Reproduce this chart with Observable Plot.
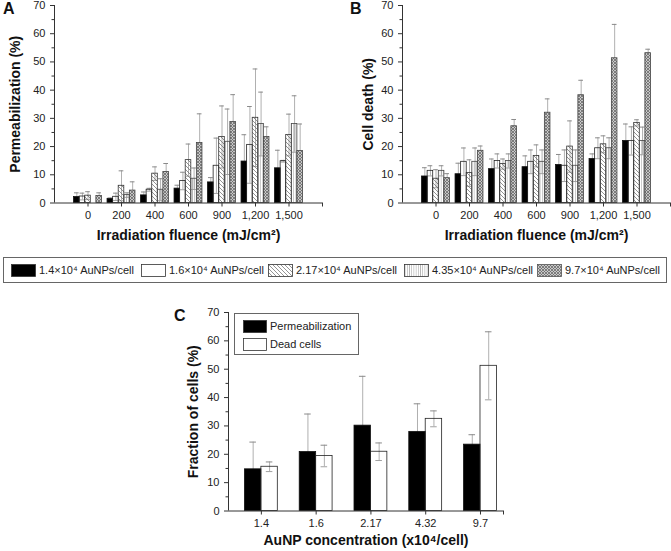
<!DOCTYPE html>
<html><head><meta charset="utf-8">
<script src="https://cdn.jsdelivr.net/npm/d3@7"></script>
<script src="https://cdn.jsdelivr.net/npm/@observablehq/plot@0.6"></script>
<style>
body{margin:0;background:#fff;font-family:"Liberation Sans",Arial,sans-serif;color:#222;}
#root{position:relative;width:671px;height:551px;overflow:hidden;background:#fff;}
.panel{position:absolute;}
.letter{position:absolute;font-weight:bold;font-size:16px;color:#111;line-height:1;}
.legend{position:absolute;border:1px solid #666;box-sizing:border-box;}
.item{position:absolute;white-space:nowrap;line-height:1;}
.sw{position:absolute;}
</style></head><body>
<svg width="0" height="0" style="position:absolute">
<defs>
<pattern id="diag" width="4" height="4" patternUnits="userSpaceOnUse">
<path d="M-1,-1 L5,5 M-1,3 L1,5 M3,-1 L5,1" stroke="#666" stroke-width="0.7" fill="none"/>
</pattern>
<pattern id="vert" width="2.2" height="4" patternUnits="userSpaceOnUse">
<path d="M1.1,0 L1.1,4" stroke="#999" stroke-width="0.6" fill="none"/>
</pattern>
<pattern id="cross" width="3" height="3" patternUnits="userSpaceOnUse">
<rect width="3" height="3" fill="#c8c8c8"/>
<path d="M-0.5,-0.5 L3.5,3.5 M3.5,-0.5 L-0.5,3.5" stroke="#6a6a6a" stroke-width="0.8" fill="none"/>
</pattern>
</defs>
</svg>
<div id="root"></div>
<script>
// ---------- data ----------
const fluence = ["0", "200", "400", "600", "900", "1,200", "1,500"];
const seriesLabels = ["1.4×10⁴ AuNPs/cell", "1.6×10⁴ AuNPs/cell", "2.17×10⁴ AuNPs/cell", "4.35×10⁴ AuNPs/cell", "9.7×10⁴ AuNPs/cell"];

// Panel A: permeabilization (%) per series, over fluence
const perm14  = [2.1, 1.4, 2.7, 5.1, 7.3, 14.7, 12.3];
const perm16  = [2.3, 2.2, 4.7, 7.8, 13.2, 20.6, 14.8];
const perm217 = [2.6, 6.1, 10.4, 15.2, 23.4, 30.2, 24.1];
const perm435 = [null, 2.8, 4.7, 8.6, 21.7, 28.0, 28.0];
const perm97  = [2.5, 4.4, 11.0, 21.3, 28.7, 23.4, 18.4];
const permErr14  = [1.5, 0.4, 1.2, 1.2, 1.7, 9.5, 6.4];
const permErr16  = [1.2, 1.3, 0.5, 3.1, 9.8, 13.6, 0.3];
const permErr217 = [1.4, 5.3, 2.4, 5.7, 11.0, 17.3, 7.4];
const permErr435 = [null, 0.8, 3.9, 3.8, 11.6, 11.3, 10.0];
const permErr97  = [1.1, 3.1, 3.0, 10.3, 9.7, 3.6, 9.6];

// Panel B: cell death (%)
const death14  = [9.4, 10.2, 12.0, 12.7, 13.5, 15.6, 22.0];
const death16  = [11.4, 14.6, 14.9, 14.6, 13.2, 19.4, 22.0];
const death217 = [8.6, 10.6, 13.8, 16.7, 20.0, 20.8, 28.4];
const death435 = [11.4, 14.6, 14.9, 14.6, 13.2, 19.4, 22.0];
const death97  = [8.8, 18.5, 27.2, 32.0, 38.2, 51.3, 53.1];
const deathErr14  = [3.1, 3.9, 3.6, 4.0, 3.7, 1.8, 6.0];
const deathErr16  = [1.8, 4.9, 2.5, 4.2, 5.6, 3.7, 5.0];
const deathErr217 = [3.2, 4.7, 1.8, 3.9, 9.1, 3.0, 1.1];
const deathErr435 = [1.8, 4.9, 2.5, 4.2, 5.6, 3.7, 4.9];
const deathErr97  = [1.6, 1.7, 2.4, 4.9, 5.3, 12.0, 1.4];

// Panel C
const concentrations = ["1.4", "1.6", "2.17", "4.32", "9.7"];
const cPerm = [14.7, 20.8, 30.1, 27.9, 23.4];
const cPermErr = [9.6, 13.4, 17.4, 9.9, 3.5];
const cDead = [15.6, 19.4, 20.9, 32.5, 51.2];
const cDeadErr = [1.7, 3.8, 3.1, 2.8, 12.0];
const cSeries = ["Permeabilization", "Dead cells"];

const yTicks = [0, 10, 20, 30, 40, 50, 60, 70];
const yMinor = [5, 15, 25, 35, 45, 55, 65];

// ---------- styles ----------
const fills = ["#000", "none", "url(#diag)", "url(#vert)", "url(#cross)"];
const strokes = ["#111", "#222", "#333", "#444", "#444"];
const FONT = "'Liberation Sans', Arial, sans-serif";
const root = document.getElementById("root");

function groupedRows(means, errs, nGroups, barW) {
  const rows = [];
  const n = means.length;
  means.forEach((arr, s) => arr.forEach((m, g) => {
    if (m == null) return;
    const x1 = g - (n * barW) / 2 + s * barW;
    const e = errs[s][g] || 0;
    rows.push({s, g, x1, x2: x1 + barW, xc: x1 + barW / 2, mean: m, lo: m - e, hi: m + e});
  }));
  return rows;
}

function barMarks(rows, nSeries, capHalf) {
  const marks = [];
  const withErr = rows.filter(d => d.hi > d.mean);
  marks.push(Plot.ruleX(withErr, {x: "xc", y1: "lo", y2: "hi", stroke: "#b0b0b0", strokeWidth: 1}));
  marks.push(Plot.ruleY(withErr, {x1: d => d.xc - capHalf, x2: d => d.xc + capHalf, y: "hi", stroke: "#8a8a8a", strokeWidth: 1}));
  marks.push(Plot.ruleY(withErr, {x1: d => d.xc - capHalf, x2: d => d.xc + capHalf, y: "lo", stroke: "#a0a0a0", strokeWidth: 1}));
  for (let s = 0; s < nSeries; s++) {
    marks.push(Plot.rect(rows.filter(d => d.s === s), {x1: "x1", x2: "x2", y1: 0, y2: "mean", fill: fills[s], stroke: strokes[s], strokeWidth: 0.8}));
  }
  return marks;
}

function axesMarks(xDomain, xTickVals, xTickFmt, yTitle, xTitle, ydx, xdy) {
  return [
    Plot.ruleY([0], {stroke: "#333", strokeWidth: 1}),
    Plot.ruleX([xDomain[0]], {stroke: "#333", strokeWidth: 1}),
    Plot.axisY({ticks: yTicks, tickSize: 4, tickPadding: 5, label: null, stroke: "#333", fill: "#222"}),
    Plot.axisY({ticks: yMinor, tickSize: 2.5, tickFormat: () => "", label: null, stroke: "#333"}),
    Plot.axisX({ticks: xTickVals, tickSize: 4, tickPadding: 4, tickFormat: xTickFmt, label: null, stroke: "#333", fill: "#222"}),
    Plot.axisX({ticks: [xDomain[1]], tickSize: 4, tickFormat: () => "", label: null, stroke: "#333"}),
    Plot.text([yTitle], {frameAnchor: "left", rotate: -90, dx: ydx, textAnchor: "middle", lineAnchor: "middle", fontWeight: "bold", fontSize: 14, fill: "#111"}),
    Plot.text([xTitle], {frameAnchor: "bottom", dy: xdy, textAnchor: "middle", lineAnchor: "middle", fontWeight: "bold", fontSize: 14, fill: "#111"})
  ];
}

function place(el, left, top) {
  const d = document.createElement("div");
  d.className = "panel";
  d.style.left = left + "px";
  d.style.top = top + "px";
  d.appendChild(el);
  root.appendChild(d);
}

// ---------- Panel A ----------
const rowsA = groupedRows([perm14, perm16, perm217, perm435, perm97],
                         [permErr14, permErr16, permErr217, permErr435, permErr97], fluence.length, 1 / 6);
const xDomA = [-1, fluence.length];
const plotA = Plot.plot({
  width: 330, height: 250,
  marginLeft: 54, marginRight: 8, marginTop: 5, marginBottom: 47.5,
  x: {domain: xDomA, axis: null},
  y: {domain: [0, 70], axis: null},
  style: {fontFamily: FONT, fontSize: "11px", color: "#222", background: "transparent"},
  marks: [
    ...barMarks(rowsA, 5, 0.07),
    ...axesMarks(xDomA, d3.range(fluence.length), i => fluence[i], "Permeabilization (%)", "Irradiation fluence (mJ/cm²)", -39, 32.5)
  ]
});
place(plotA, 0, 0);

// ---------- Panel B ----------
const rowsB = groupedRows([death14, death16, death217, death435, death97],
                         [deathErr14, deathErr16, deathErr217, deathErr435, deathErr97], fluence.length, 1 / 6);
const plotB = Plot.plot({
  width: 341, height: 250,
  marginLeft: 72, marginRight: 1, marginTop: 5, marginBottom: 47.5,
  x: {domain: xDomA, axis: null},
  y: {domain: [0, 70], axis: null},
  style: {fontFamily: FONT, fontSize: "11px", color: "#222", background: "transparent"},
  marks: [
    ...barMarks(rowsB, 5, 0.07),
    ...axesMarks(xDomA, d3.range(fluence.length), i => fluence[i], "Cell death (%)", "Irradiation fluence (mJ/cm²)", -34, 32.5)
  ]
});
place(plotB, 330, 0);

// ---------- Panel C ----------
const rowsC = groupedRows([cPerm, cDead], [cPermErr, cDeadErr], concentrations.length, 0.3);
const xDomC = [-0.6, 4.42];
const plotC = Plot.plot({
  width: 360, height: 251,
  marginLeft: 68, marginRight: 17, marginTop: 12, marginBottom: 40.5,
  x: {domain: xDomC, axis: null},
  y: {domain: [0, 70], axis: null},
  style: {fontFamily: FONT, fontSize: "11px", color: "#222", background: "transparent"},
  marks: [
    ...barMarks(rowsC, 2, 0.06),
    ...axesMarks(xDomC, d3.range(concentrations.length), i => concentrations[i], "Fraction of cells (%)", "AuNP concentration (x10⁴/cell)", -35, 29.5)
  ]
});
place(plotC, 160, 300);

// ---------- Panel letters ----------
[["A", 3, 1], ["B", 350, 1], ["C", 174, 308]].forEach(([t, x, y]) => {
  const d = document.createElement("div");
  d.className = "letter"; d.textContent = t;
  d.style.left = x + "px"; d.style.top = y + "px";
  root.appendChild(d);
});

// ---------- Legends ----------
function swatch(fill, stroke, w, h) {
  const s = d3.create("svg").attr("width", w + 1).attr("height", h + 1).attr("class", "sw");
  s.append("rect").attr("x", 0.5).attr("y", 0.5).attr("width", w).attr("height", h)
    .attr("fill", fill === "none" ? "#fff" : fill).attr("stroke", stroke).attr("stroke-width", 0.8);
  return s.node();
}
function legendBox(x, y, w, h) {
  const b = document.createElement("div");
  b.className = "legend";
  b.style.left = x + "px"; b.style.top = y + "px"; b.style.width = w + "px"; b.style.height = h + "px";
  root.appendChild(b);
  return b;
}
function legendItem(box, label, fill, stroke, sx, sy, sw, sh, tx, fs) {
  const s = swatch(fill, stroke, sw, sh);
  s.style.left = sx + "px"; s.style.top = sy + "px";
  box.appendChild(s);
  const t = document.createElement("div");
  t.className = "item"; t.textContent = label;
  t.style.left = tx + "px"; t.style.top = (sy + sh / 2 - fs / 2) + "px"; t.style.fontSize = fs + "px";
  box.appendChild(t);
}
const boxTop = legendBox(3, 257, 664, 26);
const swX = [7, 137, 264, 400, 533];
seriesLabels.forEach((lab, i) => legendItem(boxTop, lab, fills[i], i === 4 ? "#555" : "#333", swX[i], 6, 24, 12, swX[i] + 28, 11));

const boxC = legendBox(234, 313, 125, 42);
cSeries.forEach((lab, i) => legendItem(boxC, lab, fills[i], "#333", 8, 6 + i * 18, 23, 12, 35, 11));
</script>
</body></html>
